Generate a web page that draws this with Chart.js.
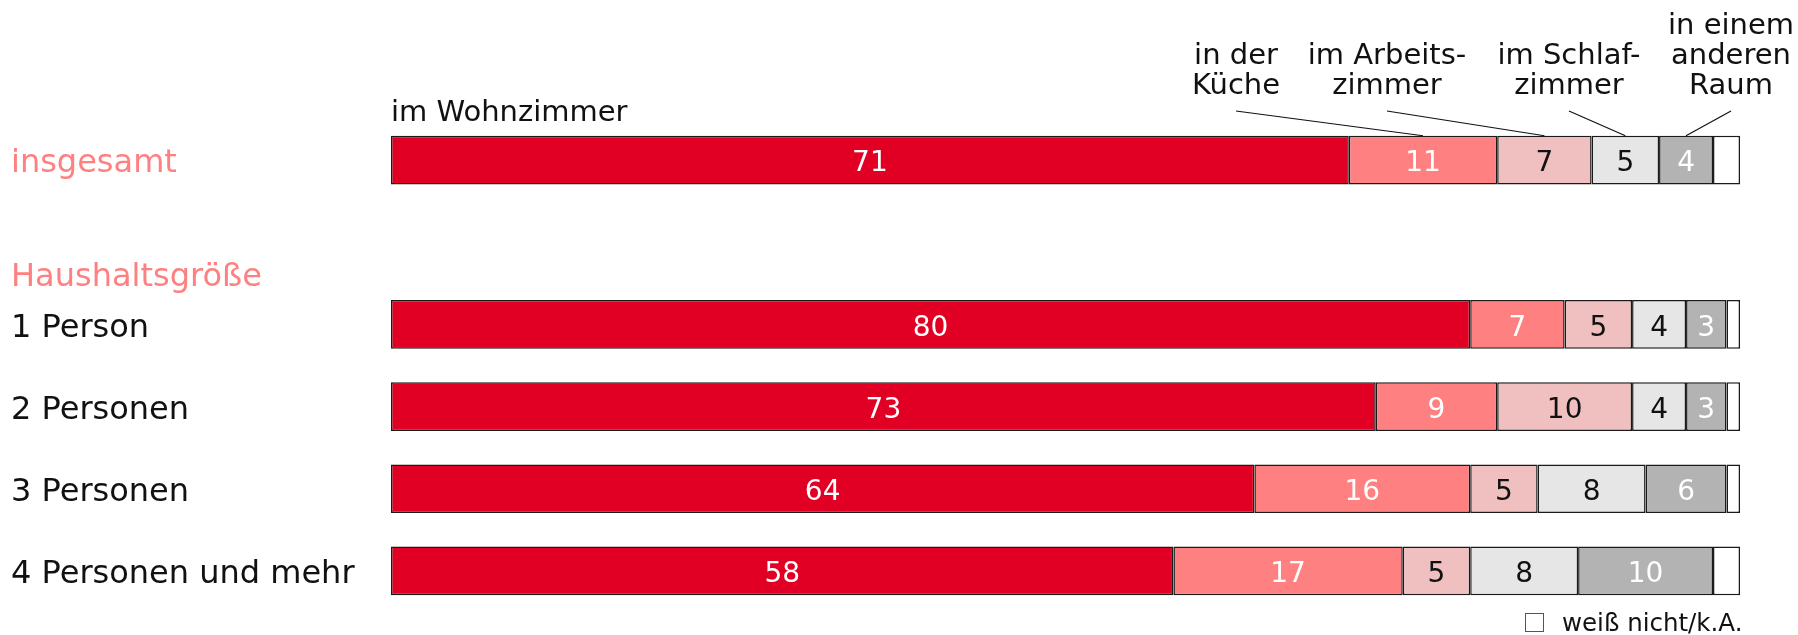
<!DOCTYPE html>
<html lang="de">
<head>
<meta charset="utf-8">
<title>Fernsehen nach Raum</title>
<script src="https://cdn.jsdelivr.net/npm/chart.js@4.4.1/dist/chart.umd.min.js"></script>
<style>
  html, body { margin: 0; padding: 0; background: #fff; }
  #wrap { position: relative; width: 1798px; height: 635px; }
</style>
</head>
<body>
<div id="wrap"><canvas id="chart"></canvas></div>
<script>
// rows (index 1 stays empty, the group heading sits there)
const categories = ['insgesamt', '', '1 Person', '2 Personen', '3 Personen', '4 Personen und mehr'];
const groupHeading = 'Haushaltsgröße';

// shares in percent
const wohnzimmer    = [71, null, 80, 73, 64, 58];
const kueche        = [11, null,  7,  9, 16, 17];
const arbeitszimmer = [ 7, null,  5, 10,  5,  5];
const schlafzimmer  = [ 5, null,  4,  4,  8,  8];
const andererRaum   = [ 4, null,  3,  3,  6, 10];
const weissNicht    = [ 2, null,  1,  1,  1,  2];

const seriesNames = ['im Wohnzimmer', 'in der Küche', 'im Arbeitszimmer', 'im Schlafzimmer', 'in einem anderen Raum', 'weiß nicht/k.A.'];
const seriesLines = [['im Wohnzimmer'], ['in der', 'Küche'], ['im Arbeits-', 'zimmer'], ['im Schlaf-', 'zimmer'], ['in einem', 'anderen', 'Raum']];
const legendLabel = 'weiß nicht/k.A.';

const colors = ['#E10024', '#FF8080', '#F0C0C0', '#E6E6E6', '#B3B3B3', '#FFFFFF'];
const valueColors = ['#fff', '#fff', '#111', '#111', '#fff', null];

const FONT = '"DejaVu Sans", Verdana, sans-serif';

// value labels inside the segments
const valueLabels = {
    id: 'valueLabels',
    afterDatasetsDraw(chart) {
        const ctx = chart.ctx;
        ctx.save();
        ctx.font = '28px ' + FONT;
        ctx.textAlign = 'center';
        ctx.textBaseline = 'middle';
        chart.data.datasets.forEach((ds, i) => {
            if (!valueColors[i]) return;
            const meta = chart.getDatasetMeta(i);
            meta.data.forEach((bar, j) => {
                const v = ds.data[j];
                if (v == null) return;
                ctx.fillStyle = valueColors[i];
                ctx.fillText(String(v), (bar.x + bar.base) / 2, bar.y + 4);
            });
        });
        ctx.restore();
    }
};

// series names above the first bar, heading, legend
const annotations = {
    id: 'annotations',
    afterDraw(chart) {
        const ctx = chart.ctx;
        ctx.save();
        ctx.fillStyle = '#111';
        ctx.font = '29px ' + FONT;
        ctx.textBaseline = 'alphabetic';

        const first = chart.getDatasetMeta(0).data[0];
        ctx.textAlign = 'left';
        ctx.fillText(seriesLines[0][0], first.base, 121);

        const labelX = [1236, 1387, 1569, 1731];
        ctx.textAlign = 'center';
        ctx.strokeStyle = '#111';
        ctx.lineWidth = 1.2;
        for (let i = 1; i < seriesLines.length; i++) {
            const lines = seriesLines[i];
            const cx = labelX[i - 1];
            lines.forEach((t, k) => {
                ctx.fillText(t, cx, 94 - (lines.length - 1 - k) * 30);
            });
            const bar = chart.getDatasetMeta(i).data[0];
            const top = bar.y - bar.height / 2;
            ctx.beginPath();
            ctx.moveTo(cx, 111);
            ctx.lineTo((bar.x + bar.base) / 2, top);
            ctx.stroke();
        }

        // group heading
        ctx.font = '32px ' + FONT;
        ctx.textAlign = 'left';
        ctx.fillStyle = '#FF8080';
        ctx.fillText(groupHeading, 11, 286);

        // legend for the white remainder
        ctx.fillStyle = '#fff';
        ctx.strokeStyle = '#555';
        ctx.lineWidth = 1;
        ctx.fillRect(1525.5, 613.5, 18, 18);
        ctx.strokeRect(1525.5, 613.5, 18, 18);
        ctx.fillStyle = '#111';
        ctx.font = '24.5px ' + FONT;
        ctx.fillText(legendLabel, 1562, 631);
        ctx.restore();
    }
};

const datasets = [wohnzimmer, kueche, arbeitszimmer, schlafzimmer, andererRaum, weissNicht].map((d, i) => ({
    label: seriesNames[i],
    data: d,
    backgroundColor: colors[i],
    borderColor: '#1a1a1a',
    borderWidth: 1.5,
    borderSkipped: false,
    categoryPercentage: 1,
    barPercentage: 0.592
}));

new Chart(document.getElementById('chart'), {
    type: 'bar',
    data: { labels: categories, datasets: datasets },
    options: {
        indexAxis: 'y',
        responsive: true,
        maintainAspectRatio: false,
        animation: false,
        layout: { padding: { left: 11, right: 58, top: 119, bottom: 23 } },
        plugins: { legend: { display: false }, tooltip: { enabled: false } },
        scales: {
            x: { stacked: true, min: 0, max: 100, display: false },
            y: {
                stacked: true,
                grid: { display: false },
                border: { display: false },
                afterFit(scale) { scale.width = 380; },
                ticks: {
                    crossAlign: 'far',
                    padding: 0,
                    labelOffset: 4,
                    font: { family: FONT, size: 32 },
                    color: (c) => c.index === 0 ? '#FF8080' : '#111'
                }
            }
        }
    },
    plugins: [valueLabels, annotations]
});
</script>
</body>
</html>
